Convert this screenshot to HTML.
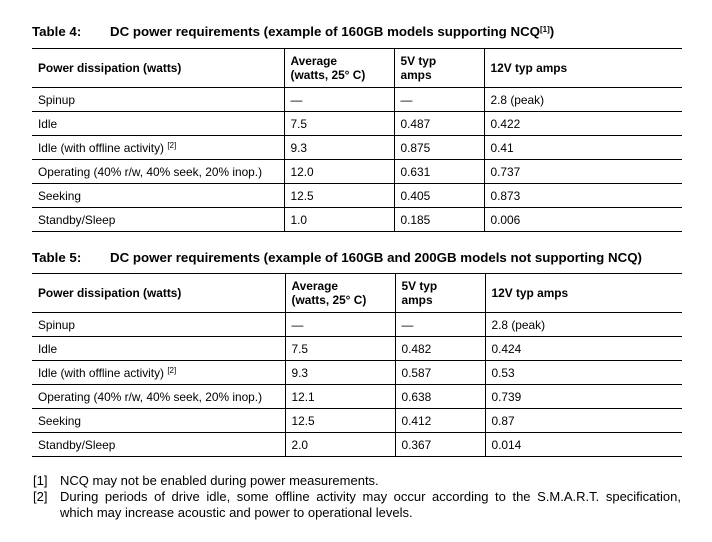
<!DOCTYPE html>
<html><head><meta charset="utf-8"><style>
body{margin:0;width:712px;height:542px;background:#fff;font-family:"Liberation Sans",Arial,sans-serif;color:#000;position:relative;overflow:hidden}
.title{position:absolute;left:32px;font-weight:bold;font-size:13.3px;white-space:nowrap}
.title span{display:inline-block;width:78px}
table{position:absolute;left:32px;border-collapse:collapse;width:650px;table-layout:fixed;font-size:11.9px}
td{border-top:1px solid #000;border-bottom:1px solid #000;padding:0 0 0 6px;height:23px;vertical-align:middle;white-space:nowrap}
td+td{border-left:1px solid #000}
tr.h td{height:38px;font-weight:bold;line-height:14px}
table tr:first-child td{border-top:1.5px solid #000}
table tr:last-child td{border-bottom:1.5px solid #000}
sup{font-size:8px;vertical-align:4px;line-height:0}
.fn{position:absolute;left:33px;width:648px;font-size:13px;line-height:16px}
.fn .l{position:relative;padding-left:27px}
.fn b{font-weight:normal;position:absolute;left:0;top:0}
.j{text-align:justify;text-align-last:justify}
</style></head><body>
<div class="title" style="top:24px"><span>Table 4:</span>DC power requirements (example of 160GB models supporting NCQ<sup>[1]</sup>)</div>
<table style="top:48px">
<colgroup><col style="width:252px"><col style="width:110px"><col style="width:90px"><col style="width:198px"></colgroup>
<tr class="h"><td>Power dissipation (watts)</td><td>Average<br>(watts, 25° C)</td><td>5V typ<br>amps</td><td>12V typ amps</td></tr>
<tr><td>Spinup</td><td>—</td><td>—</td><td>2.8 (peak)</td></tr>
<tr><td>Idle</td><td>7.5</td><td>0.487</td><td>0.422</td></tr>
<tr><td>Idle (with offline activity) <sup>[2]</sup></td><td>9.3</td><td>0.875</td><td>0.41</td></tr>
<tr><td>Operating (40% r/w, 40% seek, 20% inop.)</td><td>12.0</td><td>0.631</td><td>0.737</td></tr>
<tr><td>Seeking</td><td>12.5</td><td>0.405</td><td>0.873</td></tr>
<tr><td>Standby/Sleep</td><td>1.0</td><td>0.185</td><td>0.006</td></tr>
</table>
<div class="title" style="top:250px"><span>Table 5:</span>DC power requirements (example of 160GB and 200GB models not supporting NCQ)</div>
<table style="top:273px">
<colgroup><col style="width:253px"><col style="width:110px"><col style="width:90px"><col style="width:197px"></colgroup>
<tr class="h"><td>Power dissipation (watts)</td><td>Average<br>(watts, 25° C)</td><td>5V typ<br>amps</td><td>12V typ amps</td></tr>
<tr><td>Spinup</td><td>—</td><td>—</td><td>2.8 (peak)</td></tr>
<tr><td>Idle</td><td>7.5</td><td>0.482</td><td>0.424</td></tr>
<tr><td>Idle (with offline activity) <sup>[2]</sup></td><td>9.3</td><td>0.587</td><td>0.53</td></tr>
<tr><td>Operating (40% r/w, 40% seek, 20% inop.)</td><td>12.1</td><td>0.638</td><td>0.739</td></tr>
<tr><td>Seeking</td><td>12.5</td><td>0.412</td><td>0.87</td></tr>
<tr><td>Standby/Sleep</td><td>2.0</td><td>0.367</td><td>0.014</td></tr>
</table>
<div class="fn" style="top:473px">
<div class="l"><b>[1]</b>NCQ may not be enabled during power measurements.</div>
<div class="l"><b>[2]</b><div class="j">During periods of drive idle, some offline activity may occur according to the S.M.A.R.T. specification,</div><div>which may increase acoustic and power to operational levels.</div></div>
</div>
</body></html>
